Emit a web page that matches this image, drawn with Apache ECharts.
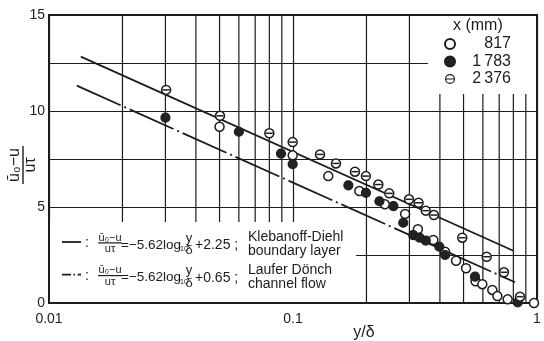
<!DOCTYPE html>
<html><head><meta charset="utf-8">
<script src="https://cdn.jsdelivr.net/npm/echarts/dist/echarts.min.js"></script>
<style>html,body{margin:0;padding:0;background:#fff}#c{width:544px;height:341px}</style>
</head><body><div id="c"></div>
<script>
// ---- data ----
const xMajorTicks = [0.01, 0.1, 1];
const xMinorTicks = [0.02,0.03,0.04,0.05,0.06,0.07,0.08,0.09,0.2,0.3,0.4,0.5,0.6,0.7,0.8,0.9];
const yTickLabels = [0, 5, 10, 15];
const seriesNames = ['817', '1\u2009783', '2\u2009376'];
const s817 = [[0.050,9.18],[0.0997,7.69],[0.1395,6.61],[0.187,5.83],[0.238,5.14],[0.288,4.64],[0.325,3.84],[0.376,3.28],[0.42,2.67],[0.466,2.20],[0.512,1.81],[0.560,1.13],[0.597,0.98],[0.656,0.68],[0.688,0.36],[0.758,0.19],[0.972,0.0]];
const s1783 = [[0.030,9.65],[0.060,8.92],[0.0893,7.78],[0.0997,7.23],[0.1686,6.13],[0.199,5.74],[0.226,5.30],[0.258,5.05],[0.283,4.18],[0.311,3.54],[0.33,3.40],[0.35,3.25],[0.398,2.93],[0.42,2.50],[0.557,1.37],[0.834,0.03]];
const s2376 = [[0.0302,11.1],[0.0502,9.75],[0.080,8.84],[0.0997,8.38],[0.129,7.74],[0.150,7.27],[0.1795,6.84],[0.199,6.61],[0.2237,6.17],[0.248,5.71],[0.299,5.40],[0.327,5.22],[0.350,4.81],[0.378,4.58],[0.494,3.40],[0.622,2.41],[0.732,1.60],[0.852,0.33]];
const lineKD = [[0.0135,12.83],[0.80,2.72]];   // Klebanoff-Diehl boundary layer
const lineLD = [[0.013,11.32],[0.813,1.08]];   // Laufer Dönch channel flow
// ---------------------------------------

const FF = 'Liberation Sans, Arial, sans-serif';
const INK = '#1c1c1c';
const chart = echarts.init(document.getElementById('c'), null, {renderer:'canvas'});

function T(text, x, y, size, align, extra) {
  return Object.assign({type:'text', x:x, y:y, z:20, silent:true,
    style:{text:text, fontSize:size, fontFamily:FF, fill:INK,
      align:align||'left', verticalAlign:'middle', textAlign:align||'left', textVerticalAlign:'middle'}}, extra||{});
}
const ringBar = 'path://M10,0A10,10,0,1,1,9.99,0Z M10,2.3A7.7,7.7,0,1,0,10.01,2.3Z M2,9H18V11H2Z';

const row = (dy, lineDash, constTxt, name1, name2) => [
  {type:'line', z:20, silent:true, shape:{x1:62,y1:242+dy,x2:81,y2:242+dy}, style:{stroke:INK, lineWidth:1.8, lineDash:lineDash}},
  T(':', 85, 243+dy, 14),
  T('ū₀−u', 110, 237.5+dy, 11, 'center'),
  {type:'rect', z:20, silent:true, shape:{x:98,y:242.3+dy,width:24,height:1.2}, style:{fill:INK}},
  T('uτ', 110, 249+dy, 11, 'center'),
  T('=−5.62log', 121, 245+dy, 13.5),
  T('10', 180, 249+dy, 7),
  T('y', 189, 238+dy, 13, 'center'),
  T('δ', 189, 250.5+dy, 13, 'center'),
  T(constTxt, 195, 245.5+dy, 14),
  T(name1, 248, 237+dy, 14),
  T(name2, 248, 251.5+dy, 14)
];

const option = {
  animation:false,
  backgroundColor:'#fff',
  grid:{left:49, right:7, top:15, bottom:38, show:true, borderColor:INK, borderWidth:2, backgroundColor:'transparent'},
  xAxis:{type:'log', logBase:10, min:xMajorTicks[0], max:xMajorTicks[xMajorTicks.length-1],
    axisLine:{show:false}, axisTick:{show:false},
    splitLine:{show:true, lineStyle:{color:INK, width:1.2}},
    axisLabel:{fontSize:14, fontFamily:FF, color:INK, margin:9,
      formatter:v=>{const t = xMajorTicks.find(m=>Math.abs(m-v)/m<1e-6); return t===undefined?'':String(t);}}},
  yAxis:{type:'value', min:0, max:15, interval:2.5,
    axisLine:{show:false}, axisTick:{show:false},
    splitLine:{show:true, lineStyle:{color:INK, width:1.2}},
    axisLabel:{fontSize:14, fontFamily:FF, color:INK, margin:4,
      formatter:v=>yTickLabels.indexOf(v)>=0?String(v):''}},
  legend:{
    data:[{name:seriesNames[0], icon:'circle'},
          {name:seriesNames[1], icon:'circle'},
          {name:seriesNames[2], icon:ringBar, itemStyle:{color:INK, borderWidth:0}}],
    orient:'vertical', left:439, top:31, itemWidth:10, itemHeight:10, itemGap:1.5,
    selectedMode:false,
    formatter:'{n|{name}}',
    textStyle:{color:INK, fontFamily:FF, fontSize:16,
      rich:{n:{width:51, align:'right', fontSize:16, lineHeight:18, fontFamily:FF, color:INK}}}
  },
  graphic:[
    // areas kept free of grid lines for the legends
    {type:'rect', z:2, silent:true, shape:{x:50,y:222,width:306,height:80}, style:{fill:'#fff'}},
    {type:'rect', z:2, silent:true, shape:{x:428,y:16,width:108,height:78}, style:{fill:'#fff'}},
    T('x (mm)', 453, 26, 16),
    ...row(0, null, '+2.25 ;', 'Klebanoff-Diehl', 'boundary layer'),
    ...row(32.7, [9,2.5,1.5,2.5], '+0.65 ;', 'Laufer Dönch', 'channel flow'),
    // axis titles
    {type:'group', x:23, y:165, rotation:Math.PI/2, z:20, silent:true, children:[
      {type:'text', x:0, y:-8, style:{text:'ū₀−u', fontSize:16, fontFamily:FF, fill:INK, align:'center', verticalAlign:'middle', textAlign:'center', textVerticalAlign:'middle'}},
      {type:'rect', shape:{x:-19,y:-0.7,width:38,height:1.4}, style:{fill:INK}},
      {type:'text', x:0, y:8, style:{text:'uτ', fontSize:16, fontFamily:FF, fill:INK, align:'center', verticalAlign:'middle', textAlign:'center', textVerticalAlign:'middle'}}
    ]},
    T('y/δ', 364, 333, 16, 'center')
  ],
  series:[
    {type:'custom', z:1, silent:true, data:xMinorTicks.map(v=>[v,0]), encode:{x:0,y:1},
      renderItem:(p, api)=>{
        const x = api.coord([api.value(0), 0])[0];
        const cs = p.coordSys;
        return {type:'line', shape:{x1:x,y1:cs.y,x2:x,y2:cs.y+cs.height}, style:{stroke:INK, lineWidth:1.2}};
      }},
    {type:'line', z:4, silent:true, data:lineKD, symbol:'none', lineStyle:{color:INK, width:1.8}},
    {type:'line', z:4, silent:true, data:lineLD, symbol:'none', lineStyle:{color:INK, width:1.8, type:[48,4,2,4]}},
    {name:seriesNames[0], type:'scatter', z:6, data:s817, symbol:'circle', symbolSize:9,
      itemStyle:{color:'#fff', borderColor:INK, borderWidth:1.5, opacity:1}},
    {name:seriesNames[1], type:'scatter', z:6, data:s1783, symbol:'circle', symbolSize:9,
      itemStyle:{color:'#222', borderColor:INK, borderWidth:1.2, opacity:1}},
    {name:seriesNames[2], type:'scatter', z:6, data:s2376, symbol:'circle', symbolSize:9,
      itemStyle:{color:'#fff', borderColor:INK, borderWidth:1.5, opacity:1}},
    {name:'bar', type:'scatter', z:7, silent:true, data:s2376, symbol:'rect', symbolSize:[7,1.5],
      itemStyle:{color:INK, opacity:1}}
  ]
};
chart.setOption(option);
</script></body></html>
